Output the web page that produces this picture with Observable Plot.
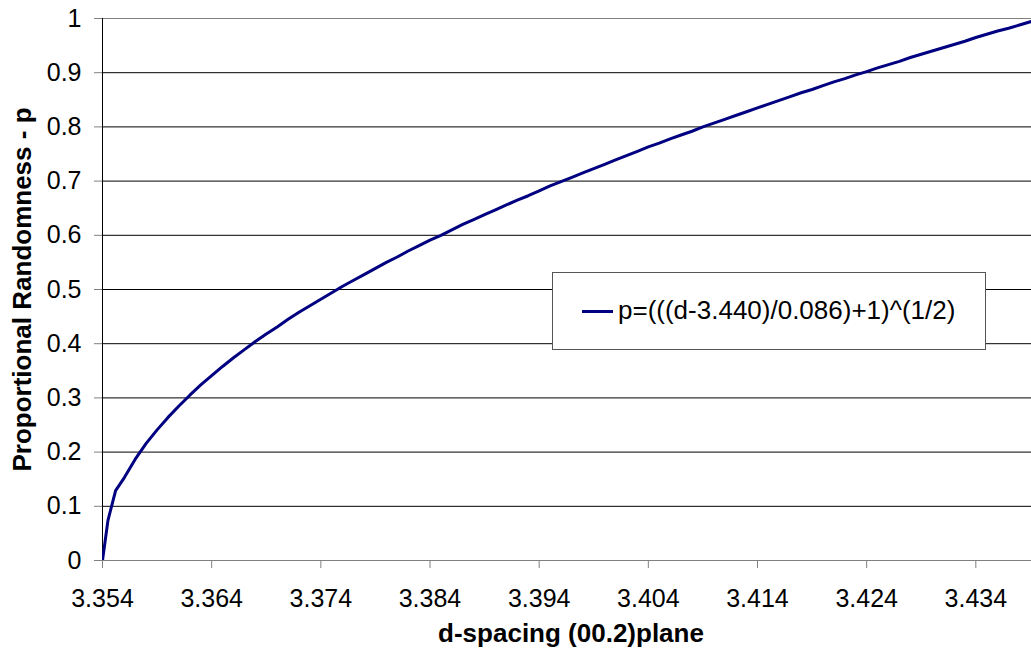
<!DOCTYPE html>
<html><head><meta charset="utf-8">
<script src="https://cdn.jsdelivr.net/npm/d3@7"></script>
<script src="https://cdn.jsdelivr.net/npm/@observablehq/plot@0.6"></script>
<style>
html,body{margin:0;padding:0;background:#fff;overflow:hidden;}
#wrap{position:relative;width:1031px;height:652px;}
#legend{position:absolute;left:552px;top:272px;width:434px;height:78px;border:1px solid #555;background:#fff;box-sizing:border-box;font-family:Arial,"Liberation Sans",sans-serif;font-size:26px;color:#000;}
#legend .swatch{position:absolute;left:29px;top:37px;width:31px;height:3px;background:#000080;}
#legend .lab{position:absolute;left:65px;top:22px;line-height:30px;white-space:nowrap;}
</style></head><body><div id="wrap"></div>
<script>
const dSpacing = [3.354, 3.3545, 3.3552,
  3.356, 3.357, 3.358, 3.359, 3.360, 3.361, 3.362, 3.363, 3.364, 3.365,
  3.366, 3.367, 3.368, 3.369, 3.370, 3.371, 3.372, 3.373, 3.374, 3.375,
  3.376, 3.377, 3.378, 3.379, 3.380, 3.381, 3.382, 3.383, 3.384, 3.385,
  3.386, 3.387, 3.388, 3.389, 3.390, 3.391, 3.392, 3.393, 3.394, 3.395,
  3.396, 3.397, 3.398, 3.399, 3.400, 3.401, 3.402, 3.403, 3.404, 3.405,
  3.406, 3.407, 3.408, 3.409, 3.410, 3.411, 3.412, 3.413, 3.414, 3.415,
  3.416, 3.417, 3.418, 3.419, 3.420, 3.421, 3.422, 3.423, 3.424, 3.425,
  3.426, 3.427, 3.428, 3.429, 3.430, 3.431, 3.432, 3.433, 3.434, 3.435,
  3.436, 3.437, 3.438, 3.439, 3.440];
const pValues = [0, 0.074, 0.129,
  0.153, 0.187, 0.216, 0.241, 0.264, 0.285, 0.305, 0.324, 0.341, 0.358,
  0.374, 0.389, 0.404, 0.418, 0.431, 0.445, 0.458, 0.470, 0.482, 0.494,
  0.506, 0.517, 0.528, 0.539, 0.550, 0.560, 0.571, 0.581, 0.591, 0.600,
  0.610, 0.620, 0.629, 0.638, 0.647, 0.656, 0.665, 0.673, 0.682, 0.691,
  0.699, 0.707, 0.715, 0.723, 0.731, 0.739, 0.747, 0.755, 0.763, 0.770,
  0.778, 0.785, 0.792, 0.800, 0.807, 0.814, 0.821, 0.828, 0.835, 0.842,
  0.849, 0.856, 0.863, 0.869, 0.876, 0.883, 0.889, 0.896, 0.902, 0.909,
  0.915, 0.921, 0.928, 0.934, 0.940, 0.946, 0.952, 0.958, 0.965, 0.971,
  0.977, 0.982, 0.988, 0.994, 1.000];
const xTicks = [3.354, 3.364, 3.374, 3.384, 3.394, 3.404, 3.414, 3.424, 3.434];
const yTicks = [0, 0.1, 0.2, 0.3, 0.4, 0.5, 0.6, 0.7, 0.8, 0.9, 1];
const seriesLabel = "p=(((d-3.440)/0.086)+1)^(1/2)";
const xTitle = "d-spacing (00.2)plane";
const yTitle = "Proportional Randomness - p";

const data = dSpacing.map((d, i) => ({d, p: pValues[i]}));
const font = "Arial, 'Liberation Sans', sans-serif";

const chart = Plot.plot({
  width: 1031, height: 652,
  marginLeft: 102, marginRight: 0, marginTop: 18, marginBottom: 92,
  style: {fontFamily: font, fontSize: "25px", color: "#000", background: "#fff", overflow: "hidden"},
  x: {domain: [3.354, 3.4391]},
  y: {domain: [0, 1]},
  marks: [
    Plot.ruleY(yTicks.filter(v => v > 0 && v < 1), {stroke: "#000"}),
    Plot.ruleY([1], {stroke: "#808080"}),
    Plot.ruleY([0], {stroke: "#808080"}),
    Plot.axisX({ticks: xTicks, tickFormat: d3.format(".3f"), tickSize: 8, tickPadding: 21, stroke: "#808080", fill: "#000", fontSize: 25, label: null}),
    Plot.axisY({ticks: yTicks, tickFormat: d => `${d}`, tickSize: 8, tickPadding: 13, stroke: "#808080", fill: "#000", fontSize: 25, label: null}),
    Plot.ruleX([3.354], {stroke: "#000"}),
    Plot.line(data, {x: "d", y: "p", stroke: "#000080", strokeWidth: 3, clip: true}),
    Plot.text([xTitle], {text: d => d, frameAnchor: "bottom", textAnchor: "middle", lineAnchor: "middle", dy: 73, dx: 4, fontSize: 26, fontWeight: "bold"}),
    Plot.text([yTitle], {text: d => d, frameAnchor: "left", textAnchor: "middle", lineAnchor: "middle", rotate: -90, dx: -80, fontSize: 26, fontWeight: "bold"})
  ]
});
const wrap = document.getElementById("wrap");
wrap.appendChild(chart);
const legend = document.createElement("div");
legend.id = "legend";
const sw = document.createElement("div"); sw.className = "swatch";
const lab = document.createElement("div"); lab.className = "lab"; lab.textContent = seriesLabel;
legend.appendChild(sw); legend.appendChild(lab);
wrap.appendChild(legend);
</script>
</body></html>
